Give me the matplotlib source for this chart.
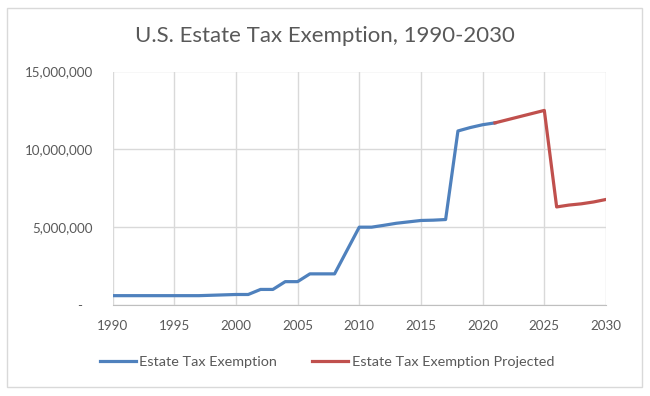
import numpy as np
import matplotlib.pyplot as plt
from matplotlib.patches import Rectangle
from matplotlib.ticker import FuncFormatter

plt.rcParams['font.family'] = ['Lato', 'DejaVu Sans']

#### Data
years_actual = list(range(1990, 2022))
exemption = [600000, 600000, 600000, 600000, 600000, 600000, 600000, 600000,
             625000, 650000, 675000, 675000, 1000000, 1000000, 1500000, 1500000,
             2000000, 2000000, 2000000, 3500000, 5000000, 5000000, 5120000,
             5250000, 5340000, 5430000, 5450000, 5490000, 11180000, 11400000,
             11580000, 11700000]
years_proj = list(range(2021, 2031))
projected = [11700000, 11900000, 12100000, 12300000, 12500000,
             6300000, 6420000, 6500000, 6620000, 6780000]

blue = '#4F81BD'
red = '#C0504D'
grid = '#D9D9D9'
txt = '#595959'

#### Figure
W, H = 650, 396
fig = plt.figure(figsize=(6.5, 3.96), dpi=100, facecolor='white')
ax = fig.add_axes([112.5 / W, 1 - 305 / H, (606 - 112.5) / W, (305 - 71.5) / H])

# thin gray frame around the whole chart
fig.patches.append(Rectangle((7 / W, 1 - 387 / H), 635 / W, 379 / H,
                             transform=fig.transFigure, fill=False,
                             edgecolor='#D9D9D9', linewidth=1))

ax.plot(years_actual, exemption, color=blue, lw=2.3,
        label='Estate Tax Exemption', solid_joinstyle='round')
ax.plot(years_proj, projected, color=red, lw=2.3,
        label='Estate Tax Exemption Projected', solid_joinstyle='round')

ax.set_xlim(1990, 2030)
ax.set_ylim(0, 15000000)
ax.set_xticks(range(1990, 2031, 5))
ax.set_yticks([0, 5000000, 10000000, 15000000])
# accounting style: zero shows as a dash, set in from the right edge
ax.yaxis.set_major_formatter(FuncFormatter(lambda v, p: '-   ' if v == 0 else f'{int(v):,}'))

ax.grid(True, color=grid, lw=1)
ax.set_axisbelow(True)
for s in ['top', 'right', 'left']:
    ax.spines[s].set_visible(False)
ax.spines['bottom'].set_color('#BFBFBF')
ax.tick_params(length=0, colors=txt, labelsize=9.6)
ax.tick_params(axis='x', pad=10.5)
ax.tick_params(axis='y', pad=14)

fig.text(0.5, 1 - 36 / H, 'U.S. Estate Tax Exemption, 1990-2030', ha='center',
         va='center', fontsize=16, color=txt)

fig.legend(loc='center', bbox_to_anchor=(327 / W, 1 - 362 / H), ncol=2, frameon=False,
           fontsize=10.4, handlelength=2.5, columnspacing=2.4, labelcolor=txt,
           handletextpad=0.25)

plt.savefig('out.png', dpi=100, facecolor='white')
